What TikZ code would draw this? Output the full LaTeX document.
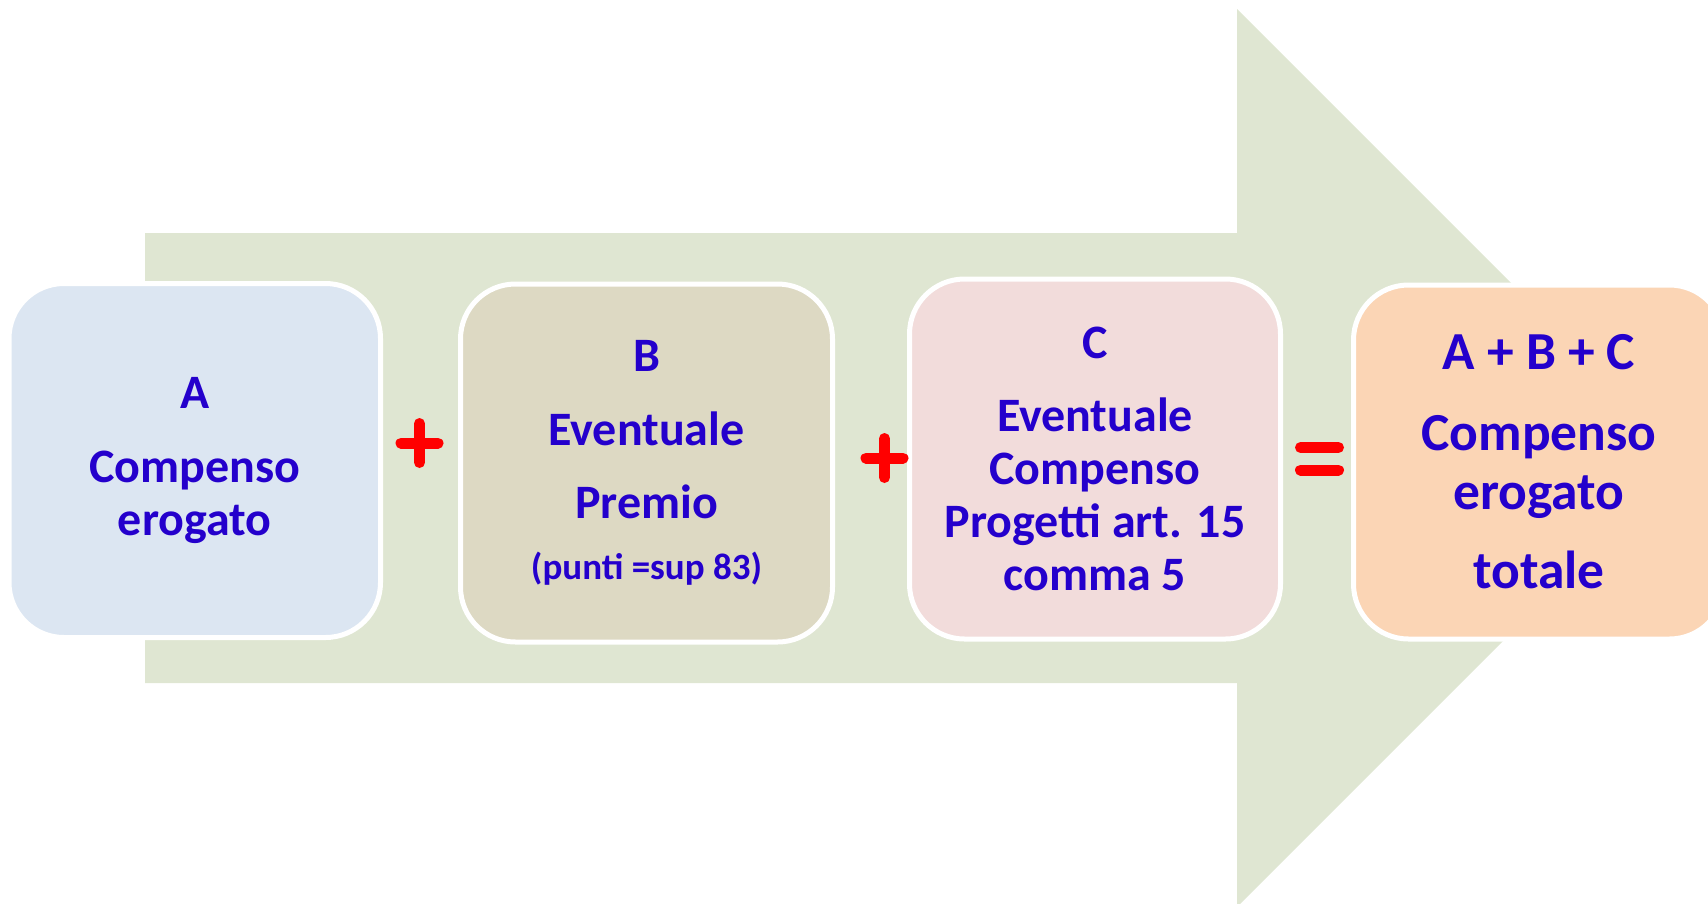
\documentclass[tikz,border=0pt]{standalone}
\usepackage{fontspec}
\setmainfont{Carlito}
\definecolor{arrowgreen}{RGB}{223,230,210}
\definecolor{boxblue}{RGB}{220,230,242}
\definecolor{boxtan}{RGB}{221,217,195}
\definecolor{boxpink}{RGB}{242,220,219}
\definecolor{boxpeach}{RGB}{251,213,181}
\definecolor{textblue}{RGB}{36,0,204}

\begin{document}
\begin{tikzpicture}[
		x=1pt, y=-1pt,
		box/.style={rectangle, draw=white, line width=5pt, rounded corners=55pt,
		minimum width=368pt, minimum height=354pt, inner sep=0pt,
		align=center, text=textblue, font=\bfseries\fontsize{48}{53}\selectfont},
		sign/.style={draw=red, line width=11pt, line cap=round}
		]
		\useasboundingbox (0,0) rectangle (1708,903);
		\clip (0,0) rectangle (1708,903);
		% big arrow behind the boxes
		\fill[arrowgreen] (145,233) -- (1237,233) -- (1237,9) -- (1686,458)
			-- (1237,907) -- (1237,683) -- (145,683) -- cycle;
		\node[box, fill=boxblue, minimum width=371.5pt] (a) at (194.75,460.5) {A\\[21pt]Compenso\\erogato};
		\node[box, fill=boxtan, minimum width=372pt, minimum height=358pt] (b) at (646.5,463)
			{B\\[21pt]Eventuale\\[20pt]Premio\\[8pt]{\fontsize{37}{36}\selectfont (punti =sup 83)}};
		\node[box, fill=boxpink, minimum width=371pt, minimum height=360pt] (c) at (1095,459)
			{C\\[20pt]Eventuale\\Compenso\\Progetti art. 15\\comma 5};
		\node[box, fill=boxpeach, minimum width=371pt, font=\bfseries\fontsize{53.5}{59}\selectfont] (d) at (1539,462)
			{A + B + C\\[22pt]Compenso\\erogato\\[20pt]totale};
		% operators between the boxes
		\coordinate (p1) at (419.5,443);
		\coordinate (p2) at (884.5,458);
		\coordinate (eq) at (1319.5,458.5);
		\draw[sign] ([xshift=-18.5pt]p1) -- ([xshift=18.5pt]p1)
			([yshift=-19.5pt]p1) -- ([yshift=19.5pt]p1);
		\draw[sign] ([xshift=-18.5pt]p2) -- ([xshift=18.5pt]p2)
			([yshift=-19.5pt]p2) -- ([yshift=19.5pt]p2);
		\draw[sign] ([xshift=-19pt,yshift=11pt]eq) -- ([xshift=19pt,yshift=11pt]eq)
			([xshift=-19pt,yshift=-11.5pt]eq) -- ([xshift=19pt,yshift=-11.5pt]eq);
	\end{tikzpicture}
\end{document}
